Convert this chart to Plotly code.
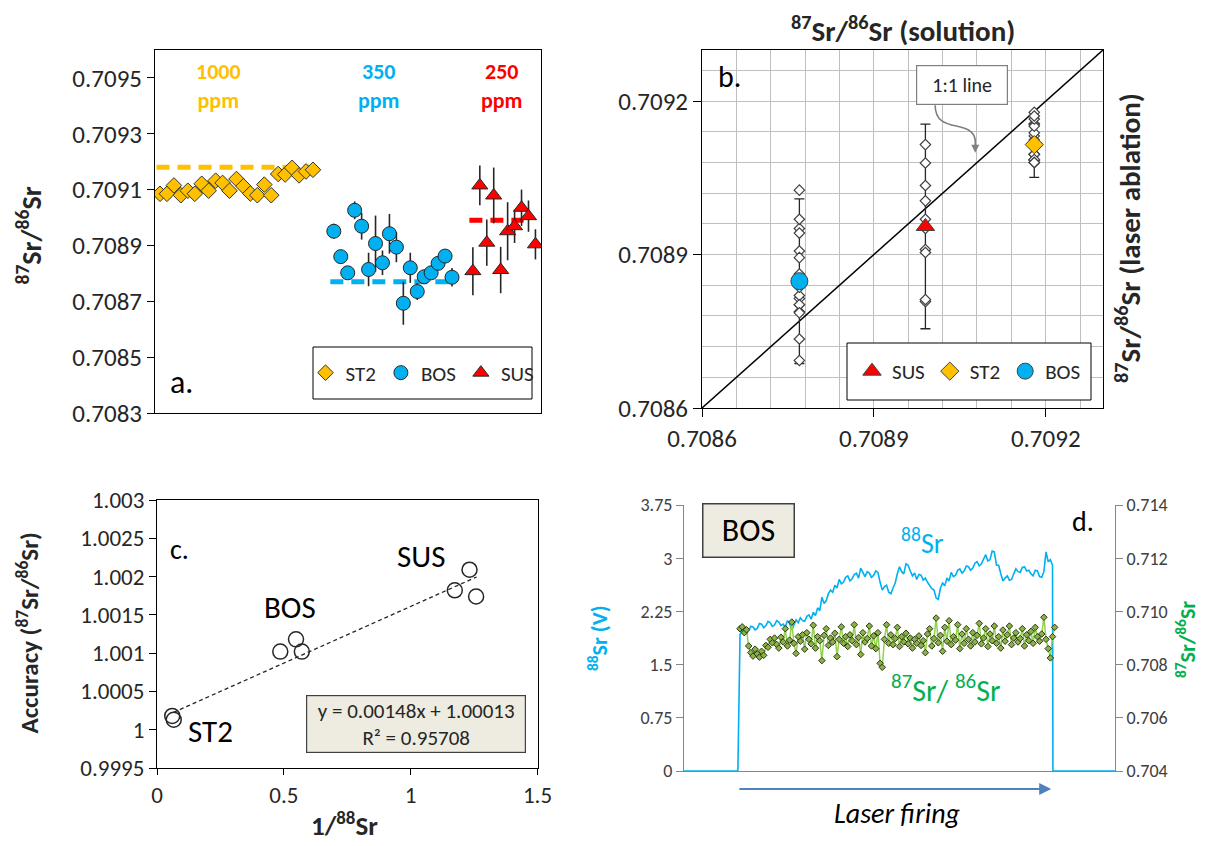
import numpy as np
import plotly.graph_objects as go

# page offset of the plot inside the browser body (default 8 px body margin)
OFF = 8
W, H = 1217 - OFF, 846 - OFF
FONT = "Carlito, Lato, 'Open Sans', sans-serif"
TXT = "#262626"
C_ST2, C_BOS, C_SUS = "#FFC000", "#00B0F0", "#FF0000"


def fx(px):
    return (px - OFF) / W


def fy(py):
    return 1 - (py - OFF) / H


# ---------------- Panel a: individual laser ablation analyses ----------------
st2_n = list(range(1, 24))
st2_ratio = [0.709085, 0.709085, 0.709115, 0.709080, 0.709096, 0.709085, 0.709121,
             0.709096, 0.709132, 0.709124, 0.709096, 0.709138, 0.709112, 0.709086,
             0.709080, 0.709118, 0.709080, 0.709156, 0.709154, 0.709178, 0.709151,
             0.709165, 0.709171]

bos_n = list(range(26, 44))
bos_ratio = [0.708951, 0.708860, 0.708802, 0.709026, 0.708969, 0.708814, 0.708907,
             0.708838, 0.708942, 0.708894, 0.708693, 0.708820, 0.708735, 0.708788,
             0.708802, 0.708836, 0.708862, 0.708786]
bos_err = [0.000027, 0.000024, 0.000024, 0.000032, 0.000048, 0.000060, 0.000100,
           0.000044, 0.000071, 0.000054, 0.000077, 0.000054, 0.000030, 0.000018,
           0.000018, 0.000018, 0.000018, 0.000033]

sus_n = list(range(46, 56))
sus_ratio = [0.708808, 0.709115, 0.708910, 0.709079, 0.708812, 0.708951, 0.708969,
             0.709035, 0.709005, 0.708904]
sus_err = [0.000086, 0.000071, 0.000083, 0.000100, 0.000083, 0.000104, 0.000060,
           0.000065, 0.000056, 0.000054]

# solution values (dashed lines in a, x-position in b)
sol_st2, sol_bos, sol_sus = 0.70918, 0.70877, 0.70899
span_st2, span_bos, span_sus = [0.5, 23.5], [25.5, 43.3], [45.5, 53.3]

# ---------------- Panel b: means ----------------
b_names = ["SUS", "ST2", "BOS"]
b_solution = [sol_sus, sol_st2, sol_bos]
b_mean = [0.708955, 0.709115, 0.708848]
b_err = [0.000200, 0.000064, 0.000161]
b_values = [sus_ratio, st2_ratio, bos_ratio]
b_colors = [C_SUS, C_ST2, C_BOS]
b_symbols = ["triangle-up", "diamond", "circle"]
b_sizes = [16, 14, 17]

# ---------------- Panel c: accuracy vs 1/88Sr ----------------
c_x = [0.060, 0.066, 0.486, 0.548, 0.571, 1.174, 1.232, 1.258]
c_y = [1.00018, 1.00013, 1.00102, 1.00118, 1.00102, 1.00182, 1.00209, 1.00174]
fit_slope, fit_int = 0.00148, 1.00013
fit_x = [0.065, 1.26]

# ---------------- Panel d: BOS time-resolved signal ----------------
t_step = 0.5
sr88_t0 = 13.0
sr88 = [1.92, 1.98, 2.00, 1.95, 1.98, 2.04, 2.03, 1.99, 2.01, 2.08,
        2.07, 2.02, 2.05, 2.11, 2.09, 2.04, 2.06, 2.12, 2.10, 2.05,
        2.07, 2.03, 2.12, 2.08, 1.99, 2.06, 2.13, 2.09, 2.16, 2.12,
        2.11, 2.18, 2.20, 2.14, 2.24, 2.19, 2.30, 2.26, 2.45, 2.36,
        2.40, 2.50, 2.55, 2.52, 2.62, 2.58, 2.70, 2.64, 2.66, 2.73,
        2.75, 2.68, 2.71, 2.77, 2.79, 2.72, 2.86, 2.80, 2.74, 2.81,
        2.79, 2.73, 2.76, 2.82, 2.80, 2.66, 2.55, 2.60, 2.62, 2.52,
        2.50, 2.58, 2.65, 2.78, 2.88, 2.81, 2.78, 2.92, 2.90, 2.82,
        2.75, 2.79, 2.70, 2.77, 2.76, 2.69, 2.72, 2.66, 2.62, 2.57,
        2.55, 2.44, 2.42, 2.58, 2.65, 2.61, 2.72, 2.68, 2.80, 2.74,
        2.76, 2.83, 2.85, 2.79, 2.82, 2.89, 2.88, 2.83, 2.86, 2.93,
        2.95, 2.89, 2.92, 3.00, 3.05, 2.96, 2.98, 3.10, 3.09, 2.90,
        2.90, 2.78, 2.68, 2.72, 2.75, 2.69, 2.70, 2.78, 2.85, 2.81,
        2.80, 2.87, 2.88, 2.82, 2.83, 2.78, 2.75, 2.83, 2.82, 2.74,
        2.73, 2.81, 3.09, 2.95, 2.98, 2.90]
ratio_t0 = 13.0
ratio_d = [0.70935, 0.70942, 0.70920, 0.70931, 0.70870, 0.70845, 0.70832, 0.70858, 0.70840, 0.70828,
           0.70850, 0.70835, 0.70872, 0.70865, 0.70895, 0.70882, 0.70900, 0.70876, 0.70862, 0.70903,
           0.70885, 0.70935, 0.70870, 0.70892, 0.70960, 0.70880, 0.70842, 0.70905, 0.70888, 0.70912,
           0.70858, 0.70920, 0.70895, 0.70878, 0.70948, 0.70862, 0.70905, 0.70890, 0.70815, 0.70910,
           0.70935, 0.70872, 0.70900, 0.70885, 0.70918, 0.70830, 0.70895, 0.70942, 0.70880, 0.70905,
           0.70868, 0.70912, 0.70890, 0.70950, 0.70875, 0.70902, 0.70838, 0.70920, 0.70885, 0.70898,
           0.70945, 0.70870, 0.70908, 0.70860, 0.70920, 0.70805, 0.70790, 0.70895, 0.70950, 0.70880,
           0.70912, 0.70875, 0.70898, 0.70940, 0.70868, 0.70905, 0.70885, 0.70918, 0.70878, 0.70900,
           0.70862, 0.70895, 0.70880, 0.70908, 0.70872, 0.70890, 0.70845, 0.70915, 0.70935, 0.70870,
           0.70898, 0.70975, 0.70882, 0.70910, 0.70850, 0.70940, 0.70888, 0.70965, 0.70875, 0.70905,
           0.70892, 0.70950, 0.70860, 0.70915, 0.70880, 0.70935, 0.70895, 0.70870, 0.70920, 0.70885,
           0.70910, 0.70955, 0.70878, 0.70900, 0.70935, 0.70868, 0.70915, 0.70890, 0.70945, 0.70880,
           0.70905, 0.70862, 0.70930, 0.70888, 0.70912, 0.70945, 0.70875, 0.70900, 0.70920, 0.70885,
           0.70898, 0.70935, 0.70870, 0.70912, 0.70890, 0.70925, 0.70880, 0.70940, 0.70905, 0.70888,
           0.70915, 0.70978, 0.70895, 0.70860, 0.70825, 0.70905, 0.70940]
laser_on, laser_off, t_end = 12.5, 85.6, 100.0

# =====================================================================
fig = go.Figure()

# ---- panel a
for span, lvl, col in [(span_st2, sol_st2, C_ST2), (span_bos, sol_bos, C_BOS), (span_sus, sol_sus, C_SUS)]:
    fig.add_trace(go.Scatter(x=span, y=[lvl, lvl], mode="lines", showlegend=False,
                             line=dict(color=col, width=5, dash="13px,8px"),
                             xaxis="x", yaxis="y", hoverinfo="skip"))
fig.add_trace(go.Scatter(x=st2_n, y=st2_ratio, mode="markers", name="ST2",
                         marker=dict(symbol="diamond", size=12, color=C_ST2,
                                     line=dict(color="#333333", width=1)),
                         xaxis="x", yaxis="y", legend="legend"))
fig.add_trace(go.Scatter(x=bos_n, y=bos_ratio, mode="markers", name="BOS",
                         error_y=dict(type="data", array=bos_err, color="#262626", thickness=1.6, width=0),
                         marker=dict(symbol="circle", size=14, color=C_BOS,
                                     line=dict(color="#262626", width=1)),
                         xaxis="x", yaxis="y", legend="legend"))
fig.add_trace(go.Scatter(x=sus_n, y=sus_ratio, mode="markers", name="SUS",
                         error_y=dict(type="data", array=sus_err, color="#262626", thickness=1.6, width=0),
                         marker=dict(symbol="triangle-up", size=14, color=C_SUS,
                                     line=dict(color="#262626", width=1)),
                         xaxis="x", yaxis="y", legend="legend"))

# ---- panel b
fig.add_trace(go.Scatter(x=[0.7086, 0.7093], y=[0.7086, 0.7093], mode="lines",
                         line=dict(color="black", width=1.5), showlegend=False,
                         xaxis="x2", yaxis="y2", hoverinfo="skip"))
for xs, m, e in zip(b_solution, b_mean, b_err):
    fig.add_trace(go.Scatter(x=[xs], y=[m], mode="lines", showlegend=False,
                             error_y=dict(type="data", array=[e], color="#262626", thickness=1.3, width=5),
                             xaxis="x2", yaxis="y2", hoverinfo="skip"))
for xs, vals in zip(b_solution, b_values):
    fig.add_trace(go.Scatter(x=[xs] * len(vals), y=vals, mode="markers", showlegend=False,
                             marker=dict(symbol="diamond", size=8, color="white",
                                         line=dict(color="#404040", width=1.2)),
                             xaxis="x2", yaxis="y2"))
for nm, xs, m, col, sym, sz in zip(b_names, b_solution, b_mean, b_colors, b_symbols, b_sizes):
    fig.add_trace(go.Scatter(x=[xs], y=[m], mode="markers", name=nm,
                             marker=dict(symbol=sym, size=sz, color=col,
                                         line=dict(color="#404040", width=1)),
                             xaxis="x2", yaxis="y2", legend="legend2"))

# ---- panel c
fit_y = [fit_slope * v + fit_int for v in fit_x]
fig.add_trace(go.Scatter(x=fit_x, y=fit_y, mode="lines", showlegend=False,
                         line=dict(color="#262626", width=1.3, dash="4px,3px"),
                         xaxis="x3", yaxis="y3", hoverinfo="skip"))
fig.add_trace(go.Scatter(x=c_x, y=c_y, mode="markers", showlegend=False,
                         marker=dict(symbol="circle-open", size=15, color="#262626",
                                     line=dict(width=1.5)),
                         xaxis="x3", yaxis="y3"))

# ---- panel d
t_sr = [0.0, laser_on] + [sr88_t0 + t_step * i for i in range(len(sr88))] + [laser_off, t_end]
v_sr = [0.0, 0.0] + sr88 + [0.0, 0.0]
fig.add_trace(go.Scatter(x=t_sr, y=v_sr, mode="lines", showlegend=False,
                         line=dict(color=C_BOS, width=1.6),
                         xaxis="x4", yaxis="y4"))
t_ra = [ratio_t0 + t_step * i for i in range(len(ratio_d))]
fig.add_trace(go.Scatter(x=t_ra, y=ratio_d, mode="lines+markers", showlegend=False,
                         line=dict(color="#92D050", width=1.5),
                         marker=dict(symbol="diamond", size=5, color="#8DB04A",
                                     line=dict(color="#2B3A14", width=1)),
                         xaxis="x4", yaxis="y5"))

# =====================================================================
ann = []


def note(xp, yp, text, size, color=TXT, angle=0, **kw):
    d = dict(x=fx(xp), y=fy(yp), xref="paper", yref="paper", text=text,
             showarrow=False, textangle=angle, xanchor="center", yanchor="middle",
             font=dict(size=size, color=color, family=FONT))
    d.update(kw)
    ann.append(d)


SR = "<sup>87</sup>Sr/<sup>86</sup>Sr"
# panel a
note(OFF, 236, "<b>" + SR + "</b>", 28, angle=-90, xanchor="left")
note(218, 86, "<b>1000<br>ppm</b>", 22, color=C_ST2)
note(379, 86, "<b>350<br>ppm</b>", 22, color=C_BOS)
note(502, 86, "<b>250<br>ppm</b>", 22, color=C_SUS)
note(181, 382, "a.", 32, color="black")
# panel b
note(903, OFF, "<b>" + SR + " (solution)</b>", 29, yanchor="top")
note(1128, 238, "<b>" + SR + " (laser ablation)</b>", 29, angle=-90)
note(729, 76, "b.", 30, color="black")
note(962, 85, "1:1 line", 20, bgcolor="white", bordercolor="#7F7F7F", borderwidth=1.2,
     width=76, height=24, borderpad=7)
ann.append(dict(x=0.709077, y=0.709099, xref="x2", yref="y2", ax=0.709077, ay=0.709128,
                axref="x2", ayref="y2", text="", showarrow=True, arrowhead=2, arrowsize=1,
                arrowwidth=1.6, arrowcolor="#808080"))
# panel c
note(OFF, 633, "<b>Accuracy (" + SR + ")</b>", 25, angle=-90, xanchor="left")
note(344, 824, "<b>1/<sup>88</sup>Sr</b>", 27)
note(179, 549, "c.", 28, color="black")
note(421, 556, "SUS", 31, color="black")
note(290, 607, "BOS", 31, color="black")
note(210, 731, "ST2", 31, color="black")
note(416, 724, "y = 0.00148x + 1.00013<br>R² = 0.95708", 21, bgcolor="#EEECE1",
     bordercolor="#404040", borderwidth=1.2, width=212, height=50, borderpad=3)
# panel d
note(598, 638, "<b><sup>88</sup>Sr (V)</b>", 22, color=C_BOS, angle=-90)
note(1186, 640, "<b>" + SR + "</b>", 22, color="#00B050", angle=-90)
note(748, 530, "BOS", 32, color="black", bgcolor="#EEECE1", bordercolor="#404040",
     borderwidth=1.5, width=80, height=42, borderpad=5)
note(1083, 521, "d.", 28, color="black")
note(922, 541, "<sup>88</sup>Sr", 28, color=C_BOS)
note(945, 688, "<sup>87</sup>Sr/ <sup>86</sup>Sr", 30, color="#00B050")
note(898, 813, "<i>Laser firing</i>", 28, color="black")
ann.append(dict(x=85.2, y=fy(789), xref="x4", yref="paper", ax=laser_on, ay=0,
                axref="x4", ayref="pixel", text="", showarrow=True, arrowhead=2,
                arrowsize=1.2, arrowwidth=2, arrowcolor="#4F81BD"))

shapes = [
    dict(type="rect", xref="paper", yref="paper", x0=fx(313), x1=fx(532),
         y0=fy(399), y1=fy(347), line=dict(color="black", width=1),
         fillcolor="white", layer="above"),
    dict(type="rect", xref="paper", yref="paper", x0=fx(847), x1=fx(1091),
         y0=fy(400), y1=fy(343), line=dict(color="black", width=1),
         fillcolor="white", layer="above"),
    dict(type="path", xref="x2", yref="y2",
         path="M 0.709007,0.709192 C 0.709007,0.709134 0.709071,0.709167 0.709077,0.709124",
         line=dict(color="#808080", width=1.6)),
]

axis_common = dict(showgrid=False, zeroline=False, showline=True, linecolor="black",
                   linewidth=1, tickcolor="black", automargin=False,
                   tickfont=dict(family=FONT, size=25, color=TXT))

fig.update_layout(
    width=W, height=H, autosize=False,
    margin=dict(l=0, r=0, t=0, b=0, autoexpand=False),
    paper_bgcolor="white", plot_bgcolor="rgba(0,0,0,0)",
    font=dict(family=FONT, color=TXT),
    annotations=ann, shapes=shapes,
    xaxis=dict(axis_common, domain=[fx(155), fx(541)], range=[0.28, 55.8], mirror=True,
               ticks="", showticklabels=False, anchor="y"),
    yaxis=dict(axis_common, domain=[fy(413), fy(50)], range=[0.7083, 0.7096],
               tick0=0.7083, dtick=0.0002, tickformat=".4f", ticks="outside", ticklen=7,
               mirror=True, anchor="x"),
    xaxis2=dict(axis_common, domain=[fx(702), fx(1103)], range=[0.7086, 0.7093],
                tick0=0.7086, dtick=0.0003, tickformat=".4f", ticks="outside", ticklen=8,
                mirror=True, anchor="y2", showgrid=True, gridcolor="#BFBFBF",
                minor=dict(tick0=0.7086, dtick=0.00006, showgrid=True, gridcolor="#BFBFBF")),
    yaxis2=dict(axis_common, domain=[fy(408), fy(50)], range=[0.7086, 0.7093],
                tick0=0.7086, dtick=0.0003, tickformat=".4f", ticks="outside", ticklen=8,
                mirror=True, anchor="x2", showgrid=True, gridcolor="#BFBFBF",
                minor=dict(tick0=0.7086, dtick=0.00006, showgrid=True, gridcolor="#BFBFBF")),
    xaxis3=dict(axis_common, domain=[fx(157), fx(537.5)], range=[0, 1.5], dtick=0.5,
                ticks="outside", ticklen=6, mirror=True, anchor="y3",
                tickfont=dict(family=FONT, size=23, color=TXT)),
    yaxis3=dict(axis_common, domain=[fy(768), fy(500)], range=[0.9995, 1.003],
                dtick=0.0005, ticks="outside", ticklen=7, mirror=True, anchor="x3",
                tickfont=dict(family=FONT, size=23, color=TXT)),
    xaxis4=dict(axis_common, domain=[fx(684), fx(1115)], range=[0, 100], ticks="",
                showticklabels=False, linecolor="#868686", anchor="y4"),
    yaxis4=dict(axis_common, domain=[fy(771), fy(505)], range=[0, 3.75], dtick=0.75,
                ticks="outside", ticklen=7, linecolor="#868686", tickcolor="#868686",
                anchor="x4", tickfont=dict(family=FONT, size=18, color="#404040")),
    yaxis5=dict(axis_common, range=[0.704, 0.714], dtick=0.002, tickformat=".3f",
                ticks="outside", ticklen=7, linecolor="#868686", tickcolor="#868686",
                overlaying="y4", side="right", anchor="x4",
                tickfont=dict(family=FONT, size=18, color="#404040")),
    legend=dict(x=fx(422.5), y=fy(373), xanchor="center", yanchor="middle",
                orientation="h", bgcolor="rgba(0,0,0,0)", borderwidth=0,
                font=dict(family=FONT, size=21, color=TXT), itemsizing="trace"),
    legend2=dict(x=fx(969), y=fy(371.5), xanchor="center", yanchor="middle",
                 orientation="h", bgcolor="rgba(0,0,0,0)", borderwidth=0,
                 font=dict(family=FONT, size=21, color=TXT), itemsizing="trace"),
)

fig.write_html("out.html")
